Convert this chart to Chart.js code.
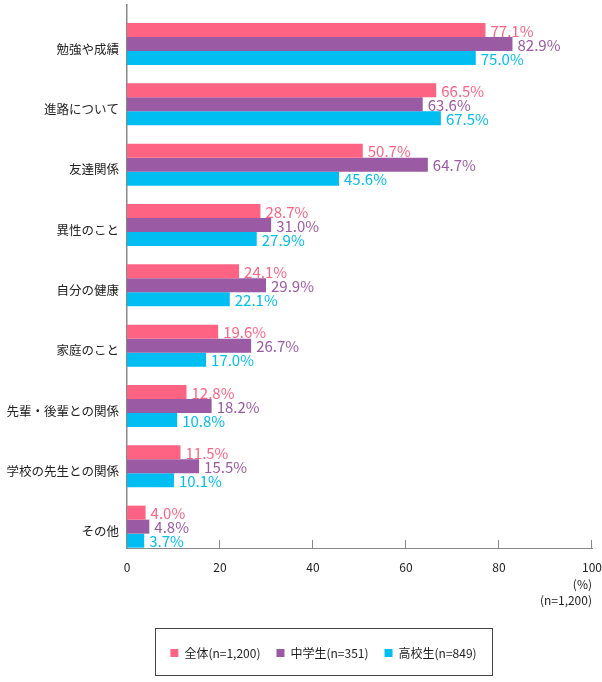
<!DOCTYPE html>
<html>
<head>
<meta charset="utf-8">
<script src="https://cdn.jsdelivr.net/npm/chart.js@4.4.0/dist/chart.umd.min.js"></script>
<style>
  html, body { margin: 0; padding: 0; background: #ffffff; }
  #wrap { width: 602px; height: 682px; }
</style>
</head>
<body>
<div id="wrap"><canvas id="c" width="602" height="682"></canvas></div>
<script>
const categories = ['勉強や成績', '進路について', '友達関係', '異性のこと', '自分の健康', '家庭のこと', '先輩・後輩との関係', '学校の先生との関係', 'その他'];
const seriesNames = ['全体(n=1,200)', '中学生(n=351)', '高校生(n=849)'];
const allValues = [77.1, 66.5, 50.7, 28.7, 24.1, 19.6, 12.8, 11.5, 4.0];
const juniorValues = [82.9, 63.6, 64.7, 31.0, 29.9, 26.7, 18.2, 15.5, 4.8];
const seniorValues = [75.0, 67.5, 45.6, 27.9, 22.1, 17.0, 10.8, 10.1, 3.7];
const xTicks = [0, 20, 40, 60, 80, 100];
const unitNote = ['(%)', '(n=1,200)'];

const colors = ['#ff6384', '#9b5aa4', '#00bdf2'];
const FONT = "'Noto Sans CJK JP', 'Noto Sans', sans-serif";
const AREA_BOTTOM = 548;
const LEGEND_CENTER_X = 323.5;
const LEGEND_TEXT_Y = 653;
const LEGEND_PAD = 16;

function toPoints(vals) { return vals.map((v, i) => ({ x: v, y: i })); }

const valueLabels = {
  id: 'valueLabels',
  afterDatasetsDraw(chart) {
    const ctx = chart.ctx;
    ctx.save();
    ctx.font = '15px ' + FONT;
    ctx.textAlign = 'left';
    ctx.textBaseline = 'middle';
    chart.data.datasets.forEach((ds, di) => {
      const meta = chart.getDatasetMeta(di);
      ctx.fillStyle = ds.backgroundColor;
      meta.data.forEach((bar, i) => {
        ctx.fillText(ds.data[i].x.toFixed(1) + '%', bar.x + 5, bar.y + 1);
      });
    });
    ctx.restore();
  }
};

const innerTicks = {
  id: 'innerTicks',
  afterDraw(chart) {
    const ctx = chart.ctx;
    const sx = chart.scales.x;
    const b = chart.chartArea.bottom;
    ctx.save();
    ctx.strokeStyle = '#888888';
    ctx.lineWidth = 1;
    sx.ticks.forEach(t => {
      if (t.value === 0) return;
      const px = Math.round(sx.getPixelForValue(t.value)) - 0.5;
      ctx.beginPath();
      ctx.moveTo(px, b);
      ctx.lineTo(px, b - 8);
      ctx.stroke();
    });
    ctx.restore();
  }
};

const legendPlace = {
  id: 'legendPlace',
  afterLayout(chart) {
    const L = chart.legend;
    const dy = LEGEND_TEXT_Y - (L.top + LEGEND_PAD + 6);
    L.top += dy; L.bottom += dy;
    const dx = LEGEND_CENTER_X - (L.left + L.right) / 2;
    L.left += dx; L.right += dx;
  },
  afterDraw(chart) {
    const ctx = chart.ctx;
    const L = chart.legend;
    const cx = (L.left + L.right) / 2;
    ctx.save();
    ctx.strokeStyle = '#444444';
    ctx.lineWidth = 1;
    ctx.strokeRect(Math.round(cx - 168.5) + 0.5, Math.round(LEGEND_TEXT_Y - 25) + 0.5, 337, 47);
    ctx.restore();
  }
};

new Chart(document.getElementById('c'), {
  type: 'bar',
  data: {
    datasets: [
      { label: seriesNames[0], data: toPoints(allValues), backgroundColor: colors[0], borderWidth: 0 },
      { label: seriesNames[1], data: toPoints(juniorValues), backgroundColor: colors[1], borderWidth: 0 },
      { label: seriesNames[2], data: toPoints(seniorValues), backgroundColor: colors[2], borderWidth: 0 }
    ]
  },
  options: {
    indexAxis: 'y',
    responsive: false,
    animation: false,
    events: [],
    layout: { padding: { top: 5, right: 10, bottom: 0, left: 0 } },
    datasets: { bar: { categoryPercentage: 0.696, barPercentage: 1.0 } },
    scales: {
      x: {
        type: 'linear',
        min: 0, max: 100,
        offset: false,
        afterBuildTicks(s) { s.ticks = xTicks.map(v => ({ value: v })); },
        ticks: { color: '#222222', font: { family: FONT, size: 12 }, padding: 12, maxRotation: 0 },
        grid: { display: false, drawTicks: false },
        border: { display: true, color: '#888888', width: 1 },
        title: {
          display: true, text: unitNote, align: 'end', color: '#222222',
          font: { family: FONT, size: 12, lineHeight: '16px' },
          padding: { top: 0, bottom: 36 }
        },
        afterFit(s) {
          s.height = 682 - AREA_BOTTOM - s.chart.legend.height;
          s.paddingLeft = 0; s.paddingRight = 0;
        }
      },
      y: {
        type: 'linear',
        reverse: true,
        offset: false,
        min: -0.646, max: 8.354,
        afterBuildTicks(s) { s.ticks = categories.map((c, i) => ({ value: i + 0.08 })); },
        ticks: { color: '#222222', font: { family: FONT, size: 12.5 }, padding: 8,
                 callback: (v, i) => categories[i] },
        grid: { display: false, drawTicks: false },
        border: { display: true, color: '#888888', width: 1.5 },
        afterFit(s) { s.width = 127; s.paddingTop = 0; s.paddingBottom = 0; }
      }
    },
    plugins: {
      legend: {
        position: 'bottom',
        labels: { boxWidth: 8, boxHeight: 8, padding: LEGEND_PAD, color: '#222222',
                  font: { family: FONT, size: 12 } }
      },
      tooltip: { enabled: false }
    }
  },
  plugins: [valueLabels, innerTicks, legendPlace]
});
</script>
</body>
</html>
